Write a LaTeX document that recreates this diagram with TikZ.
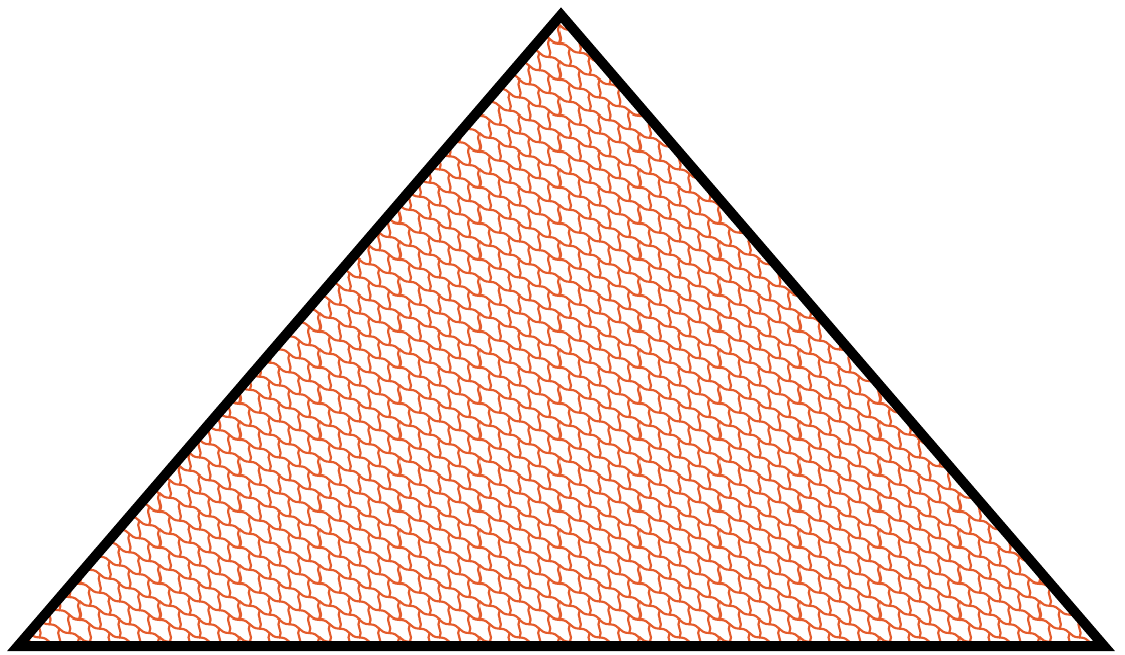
\documentclass[tikz,border=0pt]{standalone}
\usetikzlibrary{patterns}
\definecolor{scalered}{RGB}{228,92,44}
\newcommand{\tilemotif}{%
  \pgfpathmoveto{\pgfpoint{0pt}{0pt}}
  \pgfpathcurveto{\pgfpoint{11pt}{0pt}}{\pgfpoint{9pt}{-9pt}}{\pgfpoint{20pt}{-9pt}}
  \pgfpathmoveto{\pgfpoint{0pt}{0pt}}
  \pgfpathcurveto{\pgfpoint{4pt}{6pt}}{\pgfpoint{-4pt}{12pt}}{\pgfpoint{0pt}{18pt}}
}
\pgfdeclarepatternformonly{scaletiles}{\pgfpoint{0pt}{0pt}}{\pgfpoint{80pt}{36pt}}{\pgfpoint{80pt}{36pt}}{
  \pgfsetlinewidth{2.2pt}
  \pgfsetroundcap
  \pgfsetroundjoin
  \foreach \i in {-3,...,7}{
    \foreach \j in {-4,...,5}{
      \pgfmathsetmacro{\px}{20*\i+10*\j}
      \pgfmathsetmacro{\py}{-9*\i+13.5*\j}
      \pgfmathparse{(\px>-25)&&(\px<100)&&(\py>-25)&&(\py<60)?1:0}
      \ifnum\pgfmathresult=1
        \begin{pgfscope}
          \pgftransformshift{\pgfpoint{\px pt}{\py pt}}
          \tilemotif
          \pgfusepath{stroke}
        \end{pgfscope}
      \fi
    }
  }
}
\tikzset{
  pyramid/.style={draw=black, line width=10pt, miter limit=20, line join=miter,
    pattern=scaletiles, pattern color=scalered}
}
\begin{document}
\begin{tikzpicture}[x=1pt,y=-1pt]
  \useasboundingbox (0,0) rectangle (1125,654);
  \coordinate (apex) at (561,15);
  \coordinate (bl) at (18,646);
  \coordinate (br) at (1104,646);
  \draw[pyramid] (apex) -- (br) -- (bl) -- cycle;
\end{tikzpicture}
\end{document}
